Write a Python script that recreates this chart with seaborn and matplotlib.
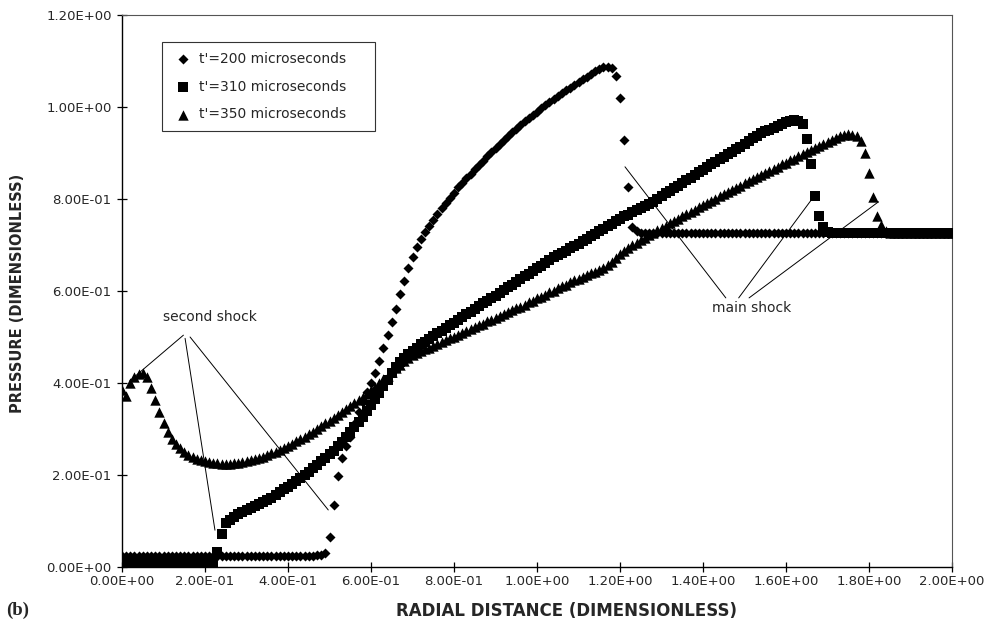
import numpy as np
import pandas as pd
import matplotlib
matplotlib.use("Agg")
import matplotlib.pyplot as plt
import seaborn as sns

# ---------------- data ----------------
radial = np.round(np.linspace(0.0, 2.0, 201), 2)

p200 = [
    0.025, 0.025, 0.025, 0.025, 0.025, 0.025, 0.025, 0.025, 0.025, 0.025,
    0.025, 0.025, 0.025, 0.025, 0.025, 0.025, 0.025, 0.025, 0.025, 0.025,
    0.025, 0.025, 0.025, 0.025, 0.025, 0.025, 0.025, 0.025, 0.025, 0.025,
    0.025, 0.025, 0.025, 0.025, 0.025, 0.025, 0.025, 0.025, 0.025, 0.025,
    0.025, 0.025, 0.025, 0.025, 0.025, 0.025, 0.025, 0.026, 0.027, 0.031,
    0.066, 0.135, 0.198, 0.238, 0.262, 0.282, 0.310, 0.338, 0.358, 0.380,
    0.400, 0.422, 0.448, 0.477, 0.504, 0.533, 0.561, 0.593, 0.622, 0.650,
    0.674, 0.695, 0.713, 0.728, 0.742, 0.755, 0.768, 0.781, 0.792, 0.803,
    0.814, 0.825, 0.835, 0.845, 0.855, 0.865, 0.874, 0.883, 0.893, 0.902,
    0.911, 0.920, 0.928, 0.937, 0.945, 0.953, 0.961, 0.969, 0.976, 0.983,
    0.990, 0.997, 1.004, 1.011, 1.018, 1.024, 1.030, 1.036, 1.042, 1.048,
    1.054, 1.060, 1.066, 1.072, 1.078, 1.083, 1.087, 1.088, 1.085, 1.067,
    1.020, 0.928, 0.825, 0.740, 0.731,
    0.725, 0.725, 0.725, 0.725, 0.725, 0.725, 0.725, 0.725, 0.725, 0.725,
    0.725, 0.725, 0.725, 0.725, 0.725, 0.725, 0.725, 0.725, 0.725, 0.725,
    0.725, 0.725, 0.725, 0.725, 0.725, 0.725, 0.725, 0.725, 0.725, 0.725,
    0.725, 0.725, 0.725, 0.725, 0.725, 0.725, 0.725, 0.725, 0.725, 0.725,
    0.725, 0.725, 0.725, 0.725, 0.725, 0.725, 0.725, 0.725, 0.725, 0.725,
    0.725, 0.725, 0.725, 0.725, 0.725, 0.725, 0.725, 0.725, 0.725, 0.725,
    0.725, 0.725, 0.725, 0.725, 0.725, 0.725, 0.725, 0.725, 0.725, 0.725,
    0.725, 0.725, 0.725, 0.725, 0.725, 0.725,
]

p310 = [
    0.008, 0.008, 0.008, 0.008, 0.008, 0.008, 0.008, 0.008, 0.008, 0.008,
    0.008, 0.008, 0.008, 0.008, 0.008, 0.008, 0.008, 0.008, 0.008, 0.008,
    0.008, 0.008, 0.008,
    0.033, 0.071, 0.095, 0.103, 0.109, 0.115, 0.120, 0.125, 0.129, 0.133,
    0.137, 0.142, 0.146, 0.151, 0.157, 0.163, 0.169, 0.175, 0.181, 0.187,
    0.193, 0.200, 0.207, 0.215, 0.222, 0.230, 0.238, 0.245, 0.253, 0.262,
    0.272, 0.282, 0.293, 0.304, 0.315, 0.327, 0.339, 0.352, 0.365, 0.379,
    0.393, 0.407, 0.421, 0.434, 0.445, 0.455, 0.463, 0.470, 0.477, 0.484,
    0.490, 0.496, 0.502, 0.508, 0.514, 0.520, 0.526, 0.531, 0.537, 0.543,
    0.549, 0.555, 0.561, 0.567, 0.573, 0.579, 0.585, 0.590, 0.596, 0.602,
    0.608, 0.614, 0.620, 0.626, 0.632, 0.637, 0.643, 0.649, 0.655, 0.661,
    0.667, 0.673, 0.678, 0.683, 0.688, 0.693, 0.698, 0.703, 0.708, 0.713,
    0.719, 0.724, 0.730, 0.735, 0.741, 0.746, 0.752, 0.757, 0.762, 0.766,
    0.771, 0.775, 0.780, 0.784, 0.789, 0.794, 0.800, 0.806, 0.812, 0.818,
    0.823, 0.829, 0.835, 0.841, 0.846, 0.852, 0.858, 0.863, 0.869, 0.875,
    0.880, 0.886, 0.892, 0.897, 0.903, 0.909, 0.914, 0.920, 0.926, 0.932,
    0.938, 0.943, 0.947, 0.951, 0.955, 0.959, 0.963, 0.967, 0.970, 0.971,
    0.970, 0.962, 0.930, 0.876, 0.807, 0.762, 0.740, 0.728,
    0.725, 0.725, 0.725, 0.725, 0.725, 0.725, 0.725, 0.725, 0.725, 0.725,
    0.725, 0.725, 0.725, 0.725, 0.725, 0.725, 0.725, 0.725, 0.725, 0.725,
    0.725, 0.725, 0.725, 0.725, 0.725, 0.725, 0.725, 0.725, 0.725, 0.725,
]

p350 = [
    0.385, 0.372, 0.400, 0.412, 0.420, 0.421, 0.413, 0.390, 0.362, 0.336,
    0.312, 0.294, 0.279, 0.267, 0.258, 0.250, 0.244, 0.239, 0.235, 0.232,
    0.230, 0.228, 0.227, 0.226, 0.225, 0.225, 0.225, 0.226, 0.227, 0.228,
    0.230, 0.232, 0.234, 0.237, 0.240, 0.243, 0.247, 0.251, 0.255, 0.259,
    0.263, 0.268, 0.273, 0.278, 0.283, 0.289, 0.294, 0.300, 0.306, 0.312,
    0.318, 0.325, 0.331, 0.337, 0.344, 0.350, 0.357, 0.363, 0.370, 0.377,
    0.384, 0.392, 0.400, 0.408, 0.416, 0.424, 0.432, 0.440, 0.447, 0.454,
    0.460, 0.465, 0.469,
    0.473, 0.477, 0.481, 0.485, 0.489, 0.493, 0.497, 0.501, 0.505, 0.509,
    0.513, 0.517, 0.521, 0.525, 0.529, 0.534, 0.538, 0.542, 0.546, 0.550,
    0.554, 0.558, 0.562, 0.566, 0.570, 0.575, 0.579, 0.584, 0.588, 0.592,
    0.597, 0.601, 0.606, 0.610, 0.614, 0.619, 0.623, 0.627, 0.631, 0.635,
    0.639, 0.642, 0.645, 0.649, 0.656, 0.664, 0.672, 0.680, 0.687, 0.693,
    0.699, 0.705, 0.711, 0.716, 0.721, 0.727, 0.732, 0.737, 0.742, 0.747,
    0.752, 0.757, 0.762, 0.767, 0.772, 0.777, 0.782, 0.787, 0.791, 0.796,
    0.801, 0.806, 0.810, 0.815, 0.820, 0.824, 0.829, 0.834, 0.839, 0.843,
    0.848, 0.852, 0.857, 0.861, 0.866, 0.870, 0.875, 0.879, 0.884, 0.888,
    0.893, 0.897, 0.902, 0.906, 0.911, 0.915, 0.920, 0.924, 0.928, 0.932,
    0.936, 0.939, 0.941, 0.940, 0.936, 0.925, 0.900, 0.856, 0.805, 0.763,
    0.743, 0.730,
    0.725, 0.725, 0.725, 0.725, 0.725, 0.725, 0.725, 0.725, 0.725, 0.725,
    0.725, 0.725, 0.725, 0.725, 0.725, 0.725,
]

series_labels = ["t'=200 microseconds", "t'=310 microseconds", "t'=350 microseconds"]
x_ticks = [0.0, 0.2, 0.4, 0.6, 0.8, 1.0, 1.2, 1.4, 1.6, 1.8, 2.0]
y_ticks = [0.0, 0.2, 0.4, 0.6, 0.8, 1.0, 1.2]

# annotation leader lines: (text-end point) -> (target point)
second_shock_text = (0.212, 0.543)
second_shock_lines = [((0.148, 0.504), (0.019, 0.405)),
                      ((0.152, 0.497), (0.224, 0.080)),
                      ((0.164, 0.500), (0.497, 0.124))]
main_shock_text = (1.518, 0.563)
main_shock_lines = [((1.455, 0.585), (1.212, 0.870)),
                    ((1.486, 0.585), (1.670, 0.809)),
                    ((1.511, 0.585), (1.823, 0.794))]

# ---------------- figure ----------------
sns.set_style("white")
plt.rcParams["font.family"] = ["DejaVu Sans"]

fig = plt.figure(figsize=(9.94, 6.27), dpi=100)
W, H = 994, 627
ax = fig.add_axes([122 / W, 1 - 567 / H, 830 / W, 552 / H])

df = pd.DataFrame({
    "r": np.concatenate([radial, radial, radial]),
    "p": np.concatenate([p200, p310, p350]),
    "series": np.repeat(series_labels, len(radial)),
})

markers = ["D", "s", "^"]
sizes = [26, 46, 56]
for lab, mk, sz in zip(series_labels, markers, sizes):
    sub = df[df["series"] == lab]
    sns.scatterplot(data=sub, x="r", y="p", marker=mk, s=sz, color="black",
                    linewidth=0, label=lab, ax=ax, zorder=3)

ax.set_xlim(0, 2.0)
ax.set_ylim(0, 1.2)
ax.set_xticks(x_ticks)
ax.set_yticks(y_ticks)
ax.set_xticklabels(["%.2E" % v for v in x_ticks], fontsize=9.5)
ax.set_yticklabels(["%.2E" % v for v in y_ticks], fontsize=9.5)
ax.tick_params(axis="both", direction="inout", length=7, width=0.9,
               color="black", bottom=True, left=True)
ax.tick_params(axis="x", pad=2)
ax.tick_params(axis="y", pad=4)

for side in ["left", "bottom"]:
    ax.spines[side].set_color("black")
    ax.spines[side].set_linewidth(1.0)
for side in ["top", "right"]:
    ax.spines[side].set_color("#555555")
    ax.spines[side].set_linewidth(0.8)
ax.grid(False)

ax.set_xlabel("RADIAL DISTANCE (DIMENSIONLESS)", fontsize=12, fontweight="bold")
ax.set_ylabel("PRESSURE (DIMENSIONLESS)", fontsize=10.5, fontweight="bold")
ax.xaxis.set_label_coords((567 - 122) / 830, -(611 - 567) / 552)
ax.xaxis.label.set_va("center")
ax.yaxis.set_label_coords((18 - 122) / 830, (567 - 293) / 552)
ax.yaxis.label.set_va("center")

# annotations
for (a, b) in second_shock_lines:
    ax.plot([a[0], b[0]], [a[1], b[1]], color="black", lw=0.7, zorder=4)
ax.text(*second_shock_text, "second shock", fontsize=10, ha="center", va="center")
for (a, b) in main_shock_lines:
    ax.plot([a[0], b[0]], [a[1], b[1]], color="black", lw=0.7, zorder=4)
ax.text(*main_shock_text, "main shock", fontsize=10, ha="center", va="center")

leg = ax.legend(loc="upper left",
                bbox_to_anchor=(40 / 830, 1 - 120 / 552, 213 / 830, 93 / 552),
                mode="expand", borderaxespad=0, frameon=True, fancybox=False,
                edgecolor="#333333", framealpha=1, fontsize=10,
                borderpad=0.7, labelspacing=1.0, handlelength=1.6,
                handletextpad=0.35)
leg.get_frame().set_linewidth(0.8)

fig.text(18 / W, 1 - 610 / H, "(b)", fontsize=13.5, fontweight="bold",
         family=["Liberation Serif", "DejaVu Serif"], ha="center", va="center")

fig.savefig("out.png", dpi=100)
